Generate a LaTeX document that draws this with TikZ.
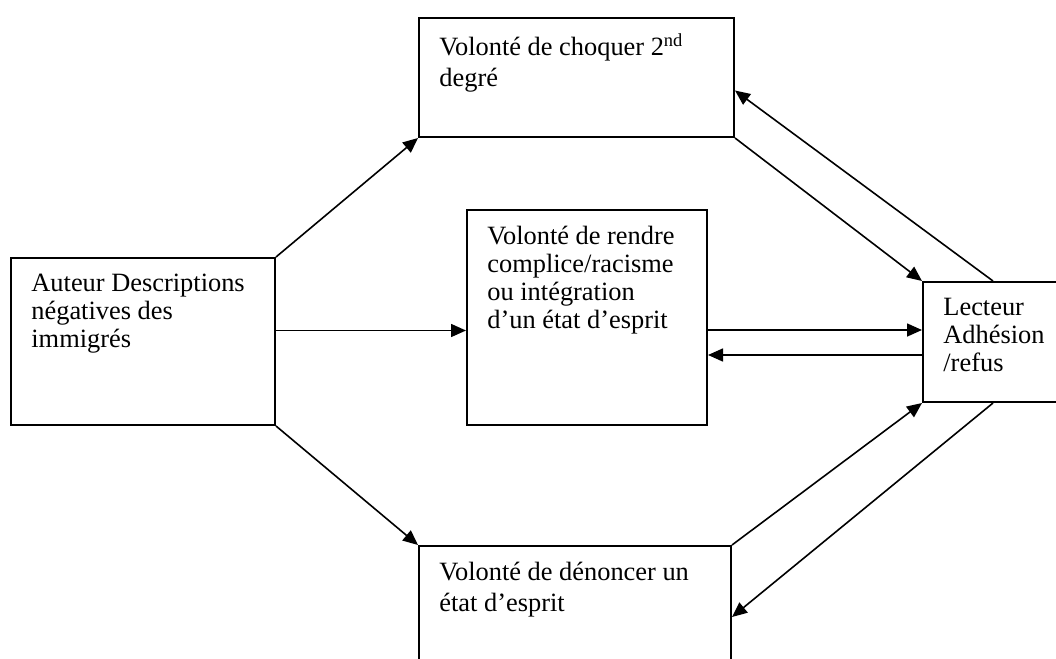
\documentclass[tikz,border=0pt]{standalone}
\usepackage{fontspec}
\setmainfont{Liberation Serif}
\usetikzlibrary{arrows.meta}

\tikzstyle{boite} = [draw, line width=1pt, anchor=north west, inner sep=0pt]
\tikzstyle{txt} = [anchor=north west, align=left, inner sep=0pt, font=\fontsize{13.2}{14}\selectfont, xshift=10.5pt, yshift=-8.3pt]
\tikzstyle{fl} = [-{Triangle[length=7.5pt,width=6.5pt]}, line width=0.8pt]

\begin{document}
\begin{tikzpicture}[x=0.5pt, y=-0.5pt]
\useasboundingbox (0,0) rectangle (1056,659);
\clip (0,0) rectangle (1056,659);

\node [boite, minimum width=132pt, minimum height=83.5pt] (auteur) at (10,257) {};
\node [boite, minimum width=157.5pt, minimum height=59.5pt] (choquer) at (418,17) {};
\node [boite, minimum width=120pt, minimum height=107.5pt] (rendre) at (466,209) {};
\node [boite, minimum width=156pt, minimum height=75pt] (denoncer) at (418,545) {};
\node [boite, minimum width=80pt, minimum height=60pt] (lecteur) at (922,281) {};

\node [txt] (t-auteur) at (auteur.north west) {Auteur Descriptions\\n\'egatives des\\immigr\'es};
\node [txt] (t-choquer) at (choquer.north west) {Volont\'e de choquer 2\textsuperscript{nd}\\[1.5pt]degr\'e};
\node [txt] (t-rendre) at (rendre.north west) {Volont\'e de rendre\\complice/racisme\\ou int\'egration\\d’un \'etat d’esprit};
\node [txt] (t-denoncer) at (denoncer.north west) {Volont\'e de d\'enoncer un\\[1.5pt]\'etat d’esprit};
\node [txt] (t-lecteur) at (lecteur.north west) {Lecteur\\Adh\'esion\\/refus};

\draw [fl] (auteur.north east) -- (choquer.south west);
\draw [fl] ([yshift=5.5pt]auteur.east) -- ([yshift=5.5pt]auteur.east -| rendre.west);
\draw [fl] (auteur.south east) -- (denoncer.north west);

\draw [fl] (choquer.south east) -- (lecteur.north west);
\draw [fl] ([xshift=35.5pt]lecteur.north west) -- ([yshift=-6.5pt]choquer.east);
\draw [fl] ([yshift=6pt]lecteur.west -| rendre.east) -- ([yshift=6pt]lecteur.west);
\draw [fl] ([yshift=-6.5pt]lecteur.west) -- ([yshift=-6.5pt]lecteur.west -| rendre.east);
\draw [fl] (denoncer.north east) -- (lecteur.south west);
\draw [fl] ([xshift=35.5pt]lecteur.south west) -- ([yshift=-36pt]denoncer.north east);
\end{tikzpicture}
\end{document}
